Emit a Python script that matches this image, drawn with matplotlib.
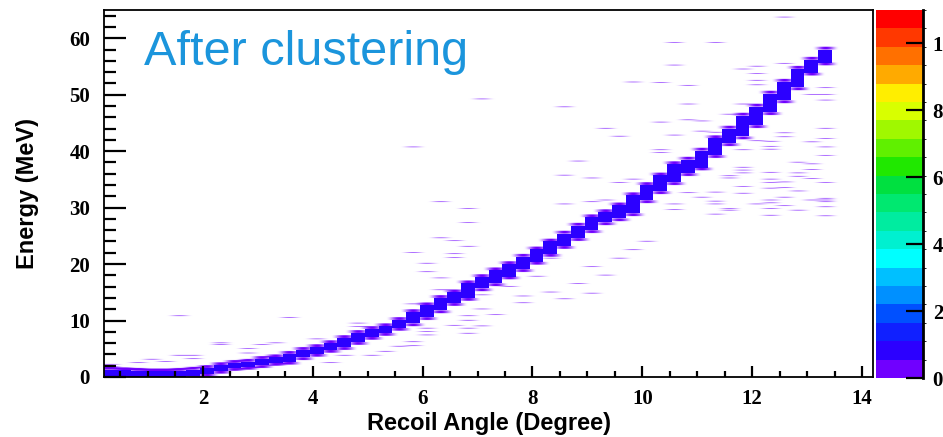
import numpy as np
import matplotlib.pyplot as plt
from matplotlib.colors import ListedColormap, BoundaryNorm

# Binning of the recoil angle / energy histogram
angle_min, angle_max, angle_step = 0.2, 14.2, 0.25
energy_min, energy_max, energy_step = 0.0, 65.0, 0.1

# Main kinematic band: energy range filled in each angle bin (bin 0 starts at 0.2 deg)
band_lo = [0.0, 0.0, 0.0, 0.0, 0.0, 0.0, 0.1, 0.6, 1.1, 1.6,
           1.8, 2.1, 2.5, 2.7, 3.5, 4.1, 4.8, 5.3, 6.2, 7.1,
           7.8, 8.7, 9.5, 10.6, 11.8, 13.1, 14.0, 15.7, 16.6, 17.8,
           19.1, 20.4, 21.8, 23.2, 24.6, 26.0, 27.4, 28.1, 29.0, 31.3,
           32.9, 34.5, 36.1, 37.1, 39.3, 41.4, 42.6, 44.6, 46.9, 49.0,
           51.3, 53.9, 55.7]
band_hi = [1.3, 1.2, 1.1, 1.0, 1.0, 1.1, 1.3, 1.6, 2.1, 2.5,
           2.7, 3.2, 3.5, 4.1, 4.8, 5.3, 6.0, 6.9, 7.8, 8.5,
           9.0, 10.1, 11.5, 12.7, 14.0, 15.0, 16.6, 17.7, 18.9, 20.0,
           21.3, 22.6, 24.0, 25.4, 26.8, 28.3, 29.2, 30.4, 32.2, 34.0,
           35.7, 37.7, 38.5, 40.1, 42.3, 44.0, 46.3, 47.9, 50.2, 52.3,
           54.6, 56.2, 58.0]
band_level = 0.9
fringe_level = 0.3
fringe_width = 0.5

# Single stray entries off the band (angle in deg, energy in MeV)
stray_angle = [12.575, 10.575, 11.325, 10.575, 9.825, 10.325, 10.825, 10.825, 8.575, 11.825,
               12.075, 12.075, 12.075, 12.075, 12.575, 13.325, 13.325, 13.075, 13.325, 13.325,
               13.325, 13.325, 13.325, 13.075, 13.075, 13.075, 12.825, 12.825, 12.825, 12.575,
               12.575, 12.325, 12.325, 12.325, 12.075, 11.825, 11.825, 11.575, 11.325, 11.075,
               11.075, 10.825, 10.325, 10.575, 10.325, 10.325, 9.325, 9.575, 8.825, 8.575,
               9.075, 9.575, 9.825, 8.575, 9.325, 10.825, 11.075, 11.325, 11.325, 11.325,
               11.575, 11.575, 11.325, 10.575, 10.575, 11.825, 11.825, 11.825, 11.825, 11.825,
               12.075, 12.325, 12.325, 12.325, 12.325, 12.325, 12.325, 12.325, 12.325, 12.575,
               12.575, 12.575, 12.575, 12.825, 12.825, 13.075, 13.075, 13.325, 13.325, 13.325,
               13.325, 13.325, 13.325, 11.575, 11.575, 9.075,
               6.325, 6.825, 6.825, 5.825, 6.325, 6.575, 6.825, 6.575, 6.575, 6.075,
               6.075, 6.325, 6.325, 6.575, 5.825, 7.075, 7.075, 7.325, 7.075, 6.825,
               6.825, 6.825, 6.825, 6.575, 6.075, 6.075, 6.075, 5.825, 5.825, 5.575,
               4.825, 4.825, 4.575, 4.575, 4.575, 5.075, 4.325, 4.075, 3.575, 3.075,
               2.325, 1.575, 1.575, 1.825, 1.325, 0.825, 0.825, 0.325, 0.325, 1.075,
               1.825, 2.825, 3.325, 2.825, 2.325, 5.325,
               5.825, 7.075, 7.575, 7.825, 8.075, 8.325, 8.575, 8.825, 9.075, 9.325,
               9.575, 9.825, 10.075, 7.825, 8.325, 9.075]
stray_energy = [63.7, 59.2, 59.3, 55.3, 52.3, 52.1, 51.6, 48.4, 47.9, 54.5,
                55.0, 53.8, 52.5, 51.8, 55.5, 51.3, 50.0, 50.0, 49.0, 44.0,
                42.3, 40.8, 39.3, 41.6, 37.8, 36.8, 38.0, 36.1, 35.5, 43.2,
                42.5, 41.8, 40.9, 40.4, 41.9, 40.3, 48.4, 46.5, 43.4, 43.5,
                45.4, 45.5, 45.1, 42.9, 40.3, 39.7, 44.0, 42.6, 38.2, 35.7,
                35.3, 34.4, 35.0, 30.6, 31.3, 32.6, 31.9, 32.8, 31.1, 30.7,
                29.8, 29.5, 28.9, 30.7, 29.6, 37.1, 36.6, 36.1, 33.7, 32.5,
                30.6, 36.3, 35.0, 34.4, 33.4, 31.3, 30.8, 29.8, 28.6, 34.5,
                33.5, 31.9, 30.4, 32.9, 29.5, 35.1, 31.3, 34.4, 31.6, 31.3,
                31.0, 30.1, 28.5, 35.6, 35.2, 31.0,
                31.0, 29.8, 27.3, 22.0, 24.6, 24.2, 23.2, 21.8, 21.2, 20.1,
                18.6, 17.5, 15.4, 14.8, 12.9, 14.5, 12.1, 11.0, 9.0, 10.8,
                10.0, 8.6, 7.7, 9.2, 8.6, 8.0, 7.4, 6.2, 5.5, 5.4,
                9.6, 8.9, 5.4, 4.9, 3.9, 3.9, 2.5, 6.8, 10.6, 5.8,
                5.7, 10.8, 3.9, 3.9, 2.7, 2.5, 1.5, 2.3, 1.9, 3.1,
                3.3, 4.2, 6.0, 5.0, 6.0, 4.6,
                40.7, 49.3, 16.0, 14.3, 17.8, 15.0, 13.8, 16.5, 19.5, 18.0,
                21.0, 22.5, 24.0, 13.2, 21.0, 14.8]
stray_level = 0.3

# Palette steps, lowest to highest
palette = ['#7000ff', '#2c00ff', '#1020ff', '#0050ff', '#0090ff',
           '#00c0ff', '#00ffff', '#00f0d0', '#00eca0', '#00e870',
           '#00e040', '#20e800', '#60f000', '#a0f800', '#d8ff00',
           '#ffee00', '#ffaa00', '#ff7000', '#ff3800', '#ff0000']
z_max = 11.0
cbar_ticks = [0, 2, 4, 6, 8, 10]

# fill the histogram: dense band cells and sparse single entries kept apart
x_edges = np.arange(angle_min, angle_max + 1e-6, angle_step)
y_edges = np.arange(energy_min, energy_max + 1e-6, energy_step)
y_mid = 0.5 * (y_edges[:-1] + y_edges[1:])
shape = (len(y_edges) - 1, len(x_edges) - 1)
core = np.zeros(shape)
sparse = np.zeros(shape)

for k, (lo, hi) in enumerate(zip(band_lo, band_hi)):
    inside = (y_mid >= lo) & (y_mid <= hi)
    near = (y_mid >= lo - fringe_width) & (y_mid <= hi + fringe_width) & ~inside
    core[inside, k] = band_level
    sparse[near, k] = fringe_level

ix = np.digitize(stray_angle, x_edges) - 1
iy = np.digitize(stray_energy, y_edges) - 1
for i, j in zip(iy, ix):
    if core[i, j] == 0:
        sparse[i, j] = stray_level

cmap = ListedColormap(palette)
norm = BoundaryNorm(np.linspace(0, z_max, len(palette) + 1), cmap.N)
# empty cells shown white, so thin rows blend towards white when resampled
cmap_sparse = cmap.with_extremes(bad='white')

fig = plt.figure(figsize=(9.43, 4.37), dpi=100)
ax = fig.add_axes([0.1103, 0.1373, 0.8155, 0.8398])
cax = fig.add_axes([0.9290, 0.1350, 0.0498, 0.8421])

ax.imshow(np.ma.masked_equal(sparse, 0), origin='lower', aspect='auto',
          cmap=cmap_sparse, norm=norm,
          extent=(angle_min, angle_max, energy_min, energy_max),
          interpolation='antialiased', interpolation_stage='rgba')
mesh = ax.pcolormesh(x_edges, y_edges, np.ma.masked_equal(core, 0),
                     cmap=cmap, norm=norm, shading='flat',
                     antialiased=False, edgecolors='none', linewidth=0)

ax.set_xlim(angle_min, angle_max)
ax.set_ylim(energy_min, energy_max)
ax.set_xticks([2, 4, 6, 8, 10, 12, 14])
ax.set_xticks(np.arange(0.5, 14.01, 0.5), minor=True)
ax.set_yticks([0, 10, 20, 30, 40, 50, 60])
ax.set_yticks(np.arange(0, 65, 2), minor=True)

ax.tick_params(axis='both', which='both', direction='in', width=1.6,
               top=False, right=False, labelsize=15)
ax.tick_params(axis='x', which='major', length=8, pad=9)
ax.tick_params(axis='x', which='minor', length=4.5)
ax.tick_params(axis='y', which='major', length=16, pad=10)
ax.tick_params(axis='y', which='minor', length=8.5)
for lab in ax.get_xticklabels() + ax.get_yticklabels():
    lab.set_fontfamily('Liberation Serif')
    lab.set_fontweight('bold')
for sp in ax.spines.values():
    sp.set_linewidth(1.3)

title_font = dict(family='Liberation Sans', weight='bold', size=17)
ax.set_xlabel('Recoil Angle (Degree)', fontdict=title_font, labelpad=2)
ax.set_ylabel('Energy (MeV)', fontdict=title_font, labelpad=22)

ax.text(0.052, 0.885, 'After clustering', transform=ax.transAxes,
        color='#1b95dc', fontsize=35, family='Liberation Sans', va='center')

cb = fig.colorbar(mesh, cax=cax, ticks=cbar_ticks)
cb.outline.set_visible(False)
cax.tick_params(axis='y', direction='in', length=12, width=1.6, pad=7,
                labelsize=15, right=True, left=False)
for lab in cax.get_yticklabels():
    lab.set_fontfamily('Liberation Serif')
    lab.set_fontweight('bold')
cax.plot([1, 1], [0, 1], transform=cax.transAxes, color='k', lw=2.0,
         clip_on=False)

fig.savefig('out.png', dpi=100)
